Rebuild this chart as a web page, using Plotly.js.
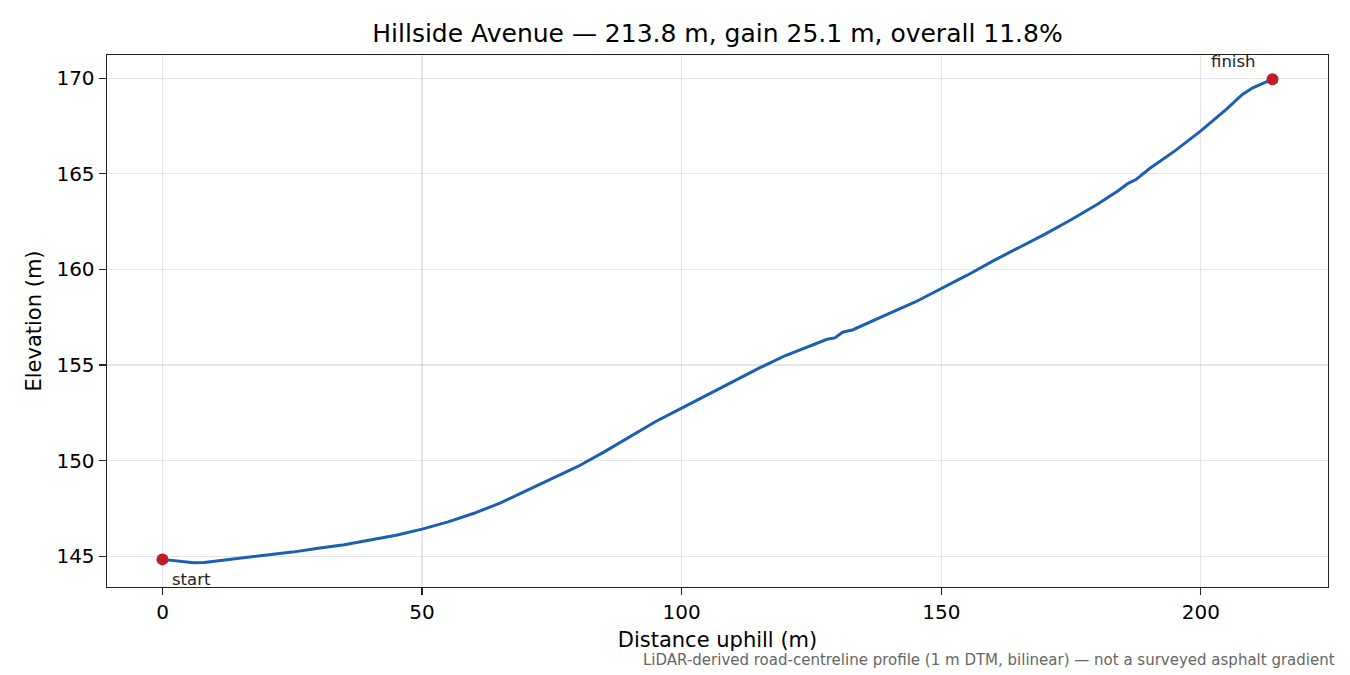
<!DOCTYPE html>
<html>
<head>
<meta charset="utf-8">
<script src="https://cdn.plot.ly/plotly-3.0.1.min.js"></script>
<style>html,body{margin:0;padding:0;background:#fff;}#chart{width:1350px;height:675px;}</style>
</head>
<body>
<div id="chart"></div>
<script>
// Distance along the road (m) and elevation (m)
const distance = [0, 2, 4, 6, 8, 10, 15, 20, 25, 30, 35, 40, 45, 50, 55, 60, 65, 70, 75, 80,
  85, 90, 95, 100, 105, 110, 115, 120, 125, 128, 129.5, 131, 133, 135, 140, 145, 150, 155, 160,
  165, 170, 175, 180, 184, 186, 187.5, 190, 195, 198.5, 200, 205, 208, 210, 212, 213.8];
const elevation = [144.84, 144.78, 144.70, 144.66, 144.68, 144.74, 144.88, 145.05, 145.22, 145.42,
  145.60, 145.85, 146.10, 146.42, 146.80, 147.25, 147.78, 148.42, 149.05, 149.70,
  150.45, 151.25, 152.05, 152.75, 153.45, 154.15, 154.85, 155.50, 156.05, 156.35, 156.42, 156.72,
  156.85, 157.10, 157.70, 158.30, 159.00, 159.70, 160.45, 161.15, 161.85, 162.60, 163.40, 164.10,
  164.50, 164.70, 165.25, 166.20, 166.95, 167.25, 168.40, 169.15, 169.50, 169.75, 169.95];
const endpointLabels = ["start", "finish"];
const xTicks = [0, 50, 100, 150, 200];
const yTicks = [145, 150, 155, 160, 165, 170];
const titleText = "Hillside Avenue — 213.8 m, gain 25.1 m, overall 11.8%";
const xLabel = "Distance uphill (m)";
const yLabel = "Elevation (m)";
const footnote = "LiDAR-derived road-centreline profile (1 m DTM, bilinear) — not a surveyed asphalt gradient";

const n = distance.length;
const endX = [distance[0], distance[n - 1]];
const endY = [elevation[0], elevation[n - 1]];

const font = "DejaVu Sans, sans-serif";
const traces = [
  {x: distance, y: elevation, mode: "lines", type: "scatter",
   line: {color: "#1a5fb4", width: 3}, hoverinfo: "skip"},
  {x: endX, y: endY, mode: "markers", type: "scatter",
   marker: {color: "#c01c28", size: 12}, hoverinfo: "skip"}
];

const dMin = Math.min(...distance), dMax = Math.max(...distance);
const eMin = Math.min(...elevation), eMax = Math.max(...elevation);
const xPad = (dMax - dMin) * 0.05, yPad = (eMax - eMin) * 0.05;

const axisCommon = {
  showline: true, linecolor: "#222", linewidth: 1.4, mirror: true,
  ticks: "outside", ticklen: 7, tickwidth: 1.3, tickcolor: "#222",
  showgrid: true, gridcolor: "rgba(0,0,0,0.1)", gridwidth: 1.3,
  zeroline: false, tickfont: {family: font, size: 20, color: "#000"}
};

const layout = {
  width: 1350, height: 675,
  paper_bgcolor: "#fff", plot_bgcolor: "#fff",
  margin: {l: 107, r: 22, t: 55, b: 88},
  showlegend: false,
  font: {family: font},
  title: {text: titleText, font: {family: font, size: 25, color: "#000"},
          x: 0.5, xref: "paper", xanchor: "center", y: 1 - 33 / 675, yanchor: "middle", yref: "container"},
  xaxis: Object.assign({}, axisCommon, {
    range: [dMin - xPad, dMax + xPad], tickvals: xTicks, ticktext: xTicks.map(String),
    title: {text: xLabel, font: {family: font, size: 21, color: "#000"}, standoff: 9}
  }),
  yaxis: Object.assign({}, axisCommon, {
    range: [eMin - yPad, eMax + yPad], tickvals: yTicks, ticktext: yTicks.map(String),
    title: {text: yLabel, font: {family: font, size: 21, color: "#000"}, standoff: 9}
  }),
  annotations: [
    {x: endX[0], y: endY[0], xref: "x", yref: "y", text: endpointLabels[0], showarrow: false,
     xanchor: "left", yanchor: "middle", xshift: 7, yshift: -20,
     font: {family: font, size: 16.5, color: "#222"}},
    {x: endX[1], y: endY[1], xref: "x", yref: "y", text: endpointLabels[1], showarrow: false,
     xanchor: "right", yanchor: "middle", xshift: -15, yshift: 18,
     font: {family: font, size: 16.5, color: "#222"}},
    {x: (1337 - 107) / (1350 - 107 - 22), y: -(660 - 587) / (587 - 55), xref: "paper", yref: "paper",
     text: footnote, showarrow: false, xanchor: "right", yanchor: "middle",
     font: {family: font, size: 15, color: "#666"}}
  ]
};

Plotly.newPlot("chart", traces, layout, {displayModeBar: false, staticPlot: true});
</script>
</body>
</html>
